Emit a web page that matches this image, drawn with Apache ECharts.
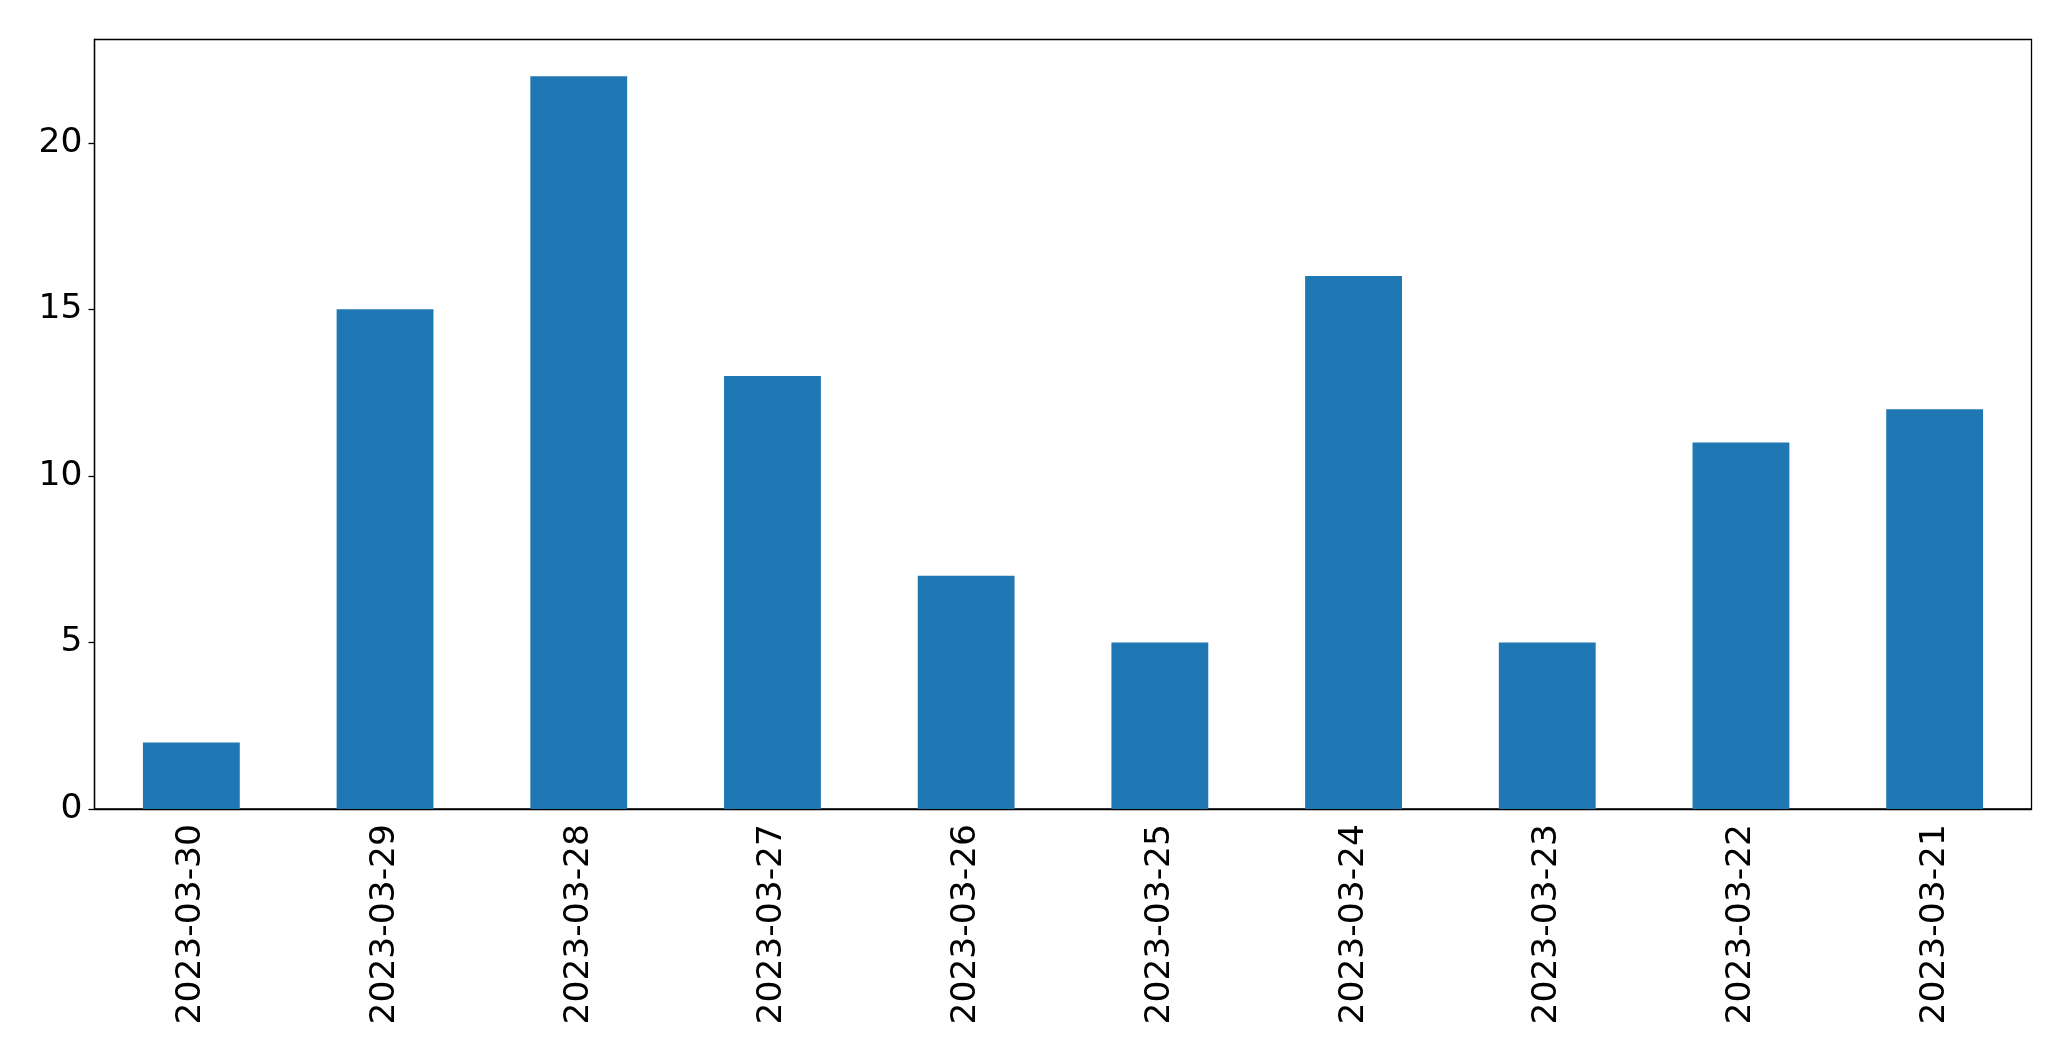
<!DOCTYPE html>
<html>
<head>
<meta charset="utf-8">
<script src="https://cdn.jsdelivr.net/npm/echarts@6/dist/echarts.min.js"></script>
<style>
  html, body { margin: 0; padding: 0; background: #fff; }
  #chart { width: 2071px; height: 1061px; }
</style>
</head>
<body>
<div id="chart"></div>
<script>
const dates = ['2023-03-30', '2023-03-29', '2023-03-28', '2023-03-27', '2023-03-26',
               '2023-03-25', '2023-03-24', '2023-03-23', '2023-03-22', '2023-03-21'];
const counts = [2, 15, 22, 13, 7, 5, 16, 5, 11, 12];
const yTicks = [0, 5, 10, 15, 20];

const chart = echarts.init(document.getElementById('chart'));
const font = 'DejaVu Sans';

chart.setOption({
  animation: false,
  grid: {
    left: 94.5, top: 39.5, width: 1937, height: 769.5,
    show: true, borderColor: '#000', borderWidth: 1.3, backgroundColor: 'transparent'
  },
  xAxis: {
    type: 'category',
    data: dates,
    axisLine: { lineStyle: { color: '#000', width: 1.3 } },
    axisTick: { alignWithLabel: true, length: 6, lineStyle: { color: '#000', width: 1.3 } },
    axisLabel: { rotate: 90, margin: 15, color: '#000', fontFamily: font, fontSize: 34.5, interval: 0 }
  },
  yAxis: {
    type: 'value',
    min: 0,
    max: 23.1,
    interval: 5,
    splitLine: { show: false },
    axisLine: { show: true, lineStyle: { color: '#000', width: 1.3 } },
    axisTick: { show: true, length: 6, customValues: yTicks, lineStyle: { color: '#000', width: 1.3 } },
    axisLabel: { margin: 12, color: '#000', fontFamily: font, fontSize: 34.5, customValues: yTicks }
  },
  series: [{
    type: 'bar',
    data: counts,
    barWidth: '50%',
    itemStyle: { color: '#1f77b4' }
  }]
});
</script>
</body>
</html>
